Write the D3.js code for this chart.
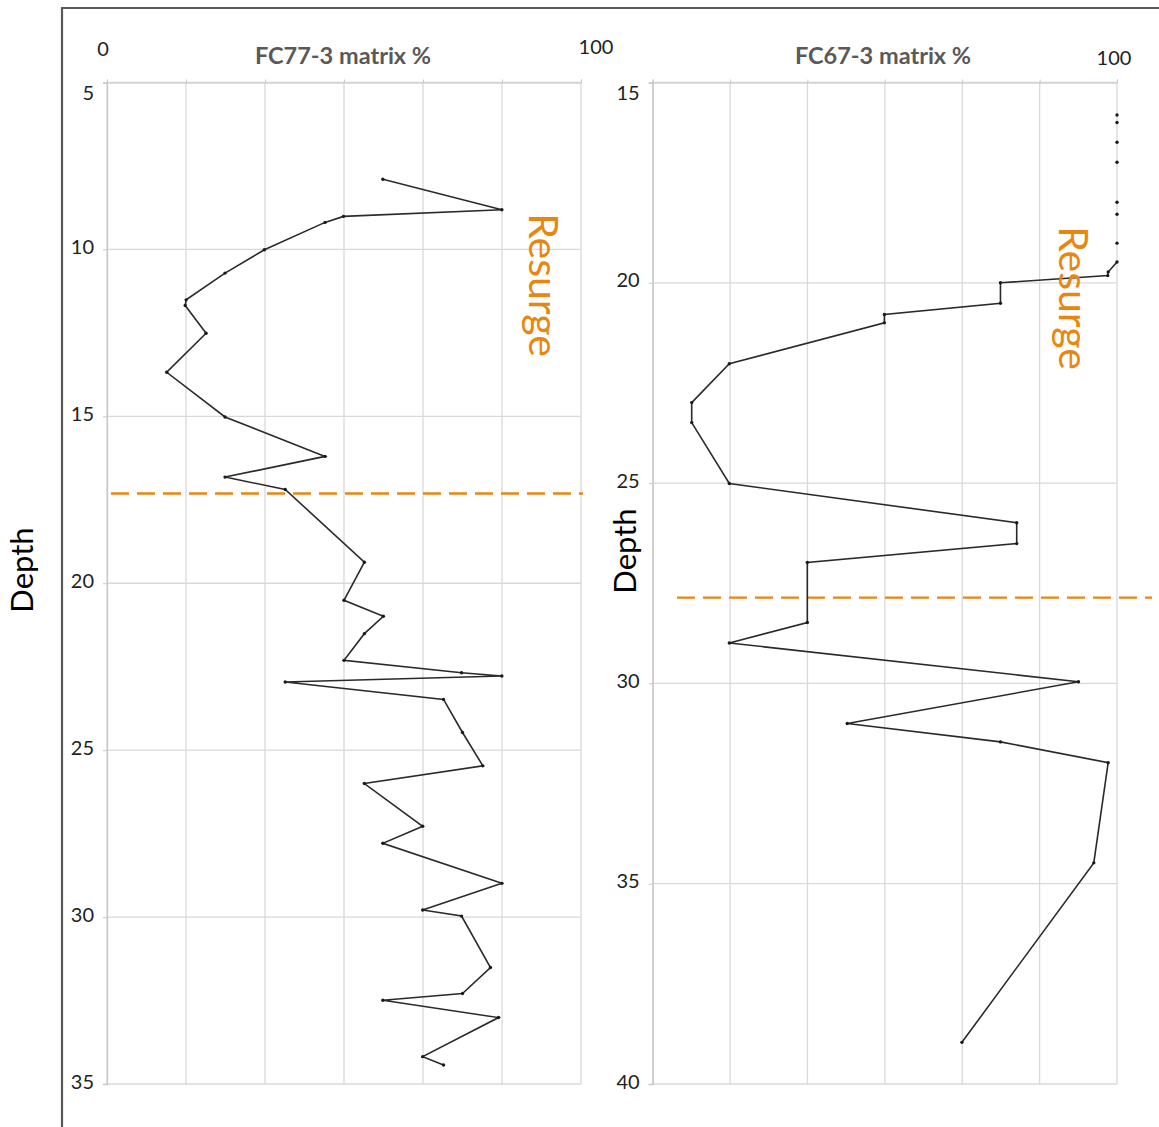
<!DOCTYPE html>
<html>
<head>
    <title></title>
    <script src="https://cdn.jsdelivr.net/npm/d3@7"></script>
    <style>
        body { margin: 0; background: #ffffff; }
        text { font-family: Lato, "Open Sans", sans-serif; }
        .tick text { font-size: 20px; fill: #222222; }
        .grid line { stroke: #d9d9d9; stroke-width: 1.3; }
        .title { font-size: 23.5px; font-weight: bold; fill: #595959; }
        .depth { font-size: 31px; fill: #000000; }
        .note { font-size: 41px; fill: #e8870f; }
        .endlab { font-size: 20px; fill: #222222; }
    </style>
</head>
<body>

<script type="text/javascript">

    // FC77-3 core
    var leftDepth = [7.90, 8.81, 9.01, 9.19, 10.01, 10.71, 11.51, 11.68, 12.51, 13.68,
                15.02, 16.20, 16.82, 17.19, 19.37, 20.51, 20.99, 21.51, 22.31, 22.68,
                22.78, 22.96, 23.48, 24.47, 25.47, 26.00, 27.28, 27.79, 28.99, 29.79,
                29.97, 31.51, 32.29, 32.49, 33.01, 34.18, 34.43];
    var leftMatrix = [58.2, 83.3, 49.9, 46.0, 33.2, 24.9, 16.7, 16.5, 20.9, 12.6,
                24.9, 46.0, 24.9, 37.6, 54.3, 50.0, 58.3, 54.3, 50.0, 74.8,
                83.3, 37.6, 71.0, 75.0, 79.3, 54.3, 66.6, 58.2, 83.3, 66.6,
                74.8, 80.9, 75.0, 58.2, 82.6, 66.6, 71.0];

    // FC67-3 core: isolated readings at the top, then the connected profile
    var rightSpotDepth = [15.81, 16.00, 16.49, 16.99, 17.99, 18.29, 19.01];
    var rightSpotMatrix = [100, 100, 100, 100, 100, 100, 100];
    var rightDepth = [19.48, 19.73, 19.82, 20.00, 20.51, 20.79, 21.00, 22.02, 22.99, 23.49,
                25.01, 25.99, 26.51, 26.98, 28.48, 28.99, 29.96, 31.00, 31.46, 31.98,
                34.48, 38.96];
    var rightMatrix = [100, 98.1, 98.0, 74.9, 74.9, 49.9, 49.9, 16.5, 8.4, 8.4,
                16.5, 78.4, 78.4, 33.3, 33.3, 16.5, 91.7, 41.9, 74.9, 98.1,
                95.0, 66.6];

    var leftDepthTicks = [5, 10, 15, 20, 25, 30, 35];
    var rightDepthTicks = [15, 20, 25, 30, 35, 40];
    var matrixTicks = [0, 100 / 6, 200 / 6, 50, 400 / 6, 500 / 6, 100];

    // resurge boundary depths
    var leftResurge = 17.31,
        rightResurge = 27.86;

    var w = 1159,
        h = 1127;

    var svg = d3.select("body")
            .append("svg")
            .attr("width", w)
            .attr("height", h);

    // outer frame (runs off the picture)
    svg.append("path")
            .attr("d", "M62,1140 L62,8 L1170,8")
            .attr("fill", "none")
            .attr("stroke", "#595959")
            .attr("stroke-width", 2.2);

    function panel(opt) {
        var x = d3.scaleLinear().domain([0, 100]).range([opt.x0, opt.x1]);
        var y = d3.scaleLinear().domain(opt.depthDomain).range([82.5, 1084]);
        var g = svg.append("g");

        // vertical gridlines
        g.append("g").attr("class", "grid")
                .selectAll("line")
                .data(matrixTicks)
                .enter()
                .append("line")
                .attr("x1", function(d){ return x(d); })
                .attr("x2", function(d){ return x(d); })
                .attr("y1", y.range()[0])
                .attr("y2", y.range()[1]);

        // horizontal gridlines
        g.append("g").attr("class", "grid")
                .selectAll("line")
                .data(opt.ticks)
                .enter()
                .append("line")
                .attr("x1", opt.x0)
                .attr("x2", opt.x1)
                .attr("y1", function(d){ return y(d); })
                .attr("y2", function(d){ return y(d); });

        // top axis: small marks only
        var top = g.append("g")
                .attr("transform", "translate(0," + y.range()[0] + ")")
                .call(d3.axisTop(x).tickValues(matrixTicks).tickSize(3).tickFormat(""));
        top.select(".domain").attr("stroke", "#c8c8c8");
        top.selectAll(".tick line").attr("stroke", "#c8c8c8");

        // depth axis
        var left = g.append("g")
                .attr("transform", "translate(" + opt.x0 + ",0)")
                .call(d3.axisLeft(y).tickValues(opt.ticks).tickSize(4).tickPadding(9));
        left.select(".domain").attr("stroke", "#c8c8c8").attr("stroke-width", 1.3);
        left.selectAll(".tick line").attr("stroke", "#c8c8c8");
        left.selectAll(".tick text")
                .attr("dy", function(d, i){ return i === 0 ? "0.85em" : "0.2em"; });

        // resurge boundary
        g.append("line")
                .attr("x1", opt.dashFrom)
                .attr("x2", opt.dashTo)
                .attr("y1", y(opt.resurge))
                .attr("y2", y(opt.resurge))
                .attr("stroke", "#e8870f")
                .attr("stroke-width", 2.4)
                .attr("stroke-dasharray", "18,8");

        var line = d3.line()
                .x(function(d){ return x(d[1]); })
                .y(function(d){ return y(d[0]); });

        var pts = d3.zip(opt.depth, opt.matrix);
        g.append("path")
                .datum(pts)
                .attr("d", line)
                .attr("fill", "none")
                .attr("stroke", "#2a2a2a")
                .attr("stroke-width", 1.6);

        var allPts = pts.concat(opt.spots || []);
        g.selectAll("circle")
                .data(allPts)
                .enter()
                .append("circle")
                .attr("cx", function(d){ return x(d[1]); })
                .attr("cy", function(d){ return y(d[0]); })
                .attr("r", 1.7)
                .attr("fill", "#1a1a1a");

        // title
        g.append("text")
                .attr("class", "title")
                .attr("x", opt.titleX)
                .attr("y", 64)
                .attr("text-anchor", "middle")
                .text(opt.title);

        // "Resurge" note
        g.append("text")
                .attr("class", "note")
                .attr("transform", "translate(" + opt.noteX + "," + opt.noteY + ") rotate(90)")
                .attr("text-anchor", "middle")
                .attr("dy", "0.35em")
                .text("Resurge");

        // Depth label
        g.append("text")
                .attr("class", "depth")
                .attr("transform", "translate(" + opt.depthX + "," + opt.depthY + ") rotate(-90)")
                .attr("text-anchor", "middle")
                .attr("dy", "0.35em")
                .text("Depth");
    }

    panel({
        x0: 107, x1: 581,
        depthDomain: [5, 35],
        ticks: leftDepthTicks,
        depth: leftDepth, matrix: leftMatrix,
        resurge: leftResurge, dashFrom: 111, dashTo: 583,
        title: "FC77-3 matrix %", titleX: 343,
        noteX: 543, noteY: 285,
        depthX: 22, depthY: 570
    });

    panel({
        x0: 652.7, x1: 1117,
        depthDomain: [15, 40],
        ticks: rightDepthTicks,
        depth: rightDepth, matrix: rightMatrix,
        spots: d3.zip(rightSpotDepth, rightSpotMatrix),
        resurge: rightResurge, dashFrom: 677, dashTo: 1152,
        title: "FC67-3 matrix %", titleX: 883,
        noteX: 1073, noteY: 298,
        depthX: 625, depthY: 551
    });

    // axis end labels typed on the chart
    svg.append("text").attr("class", "endlab").attr("x", 103).attr("y", 56).attr("text-anchor", "middle").text("0");
    svg.append("text").attr("class", "endlab").attr("x", 596).attr("y", 54).attr("text-anchor", "middle").text("100");
    svg.append("text").attr("class", "endlab").attr("x", 1114).attr("y", 65).attr("text-anchor", "middle").text("100");
</script>
</body>
</html>
